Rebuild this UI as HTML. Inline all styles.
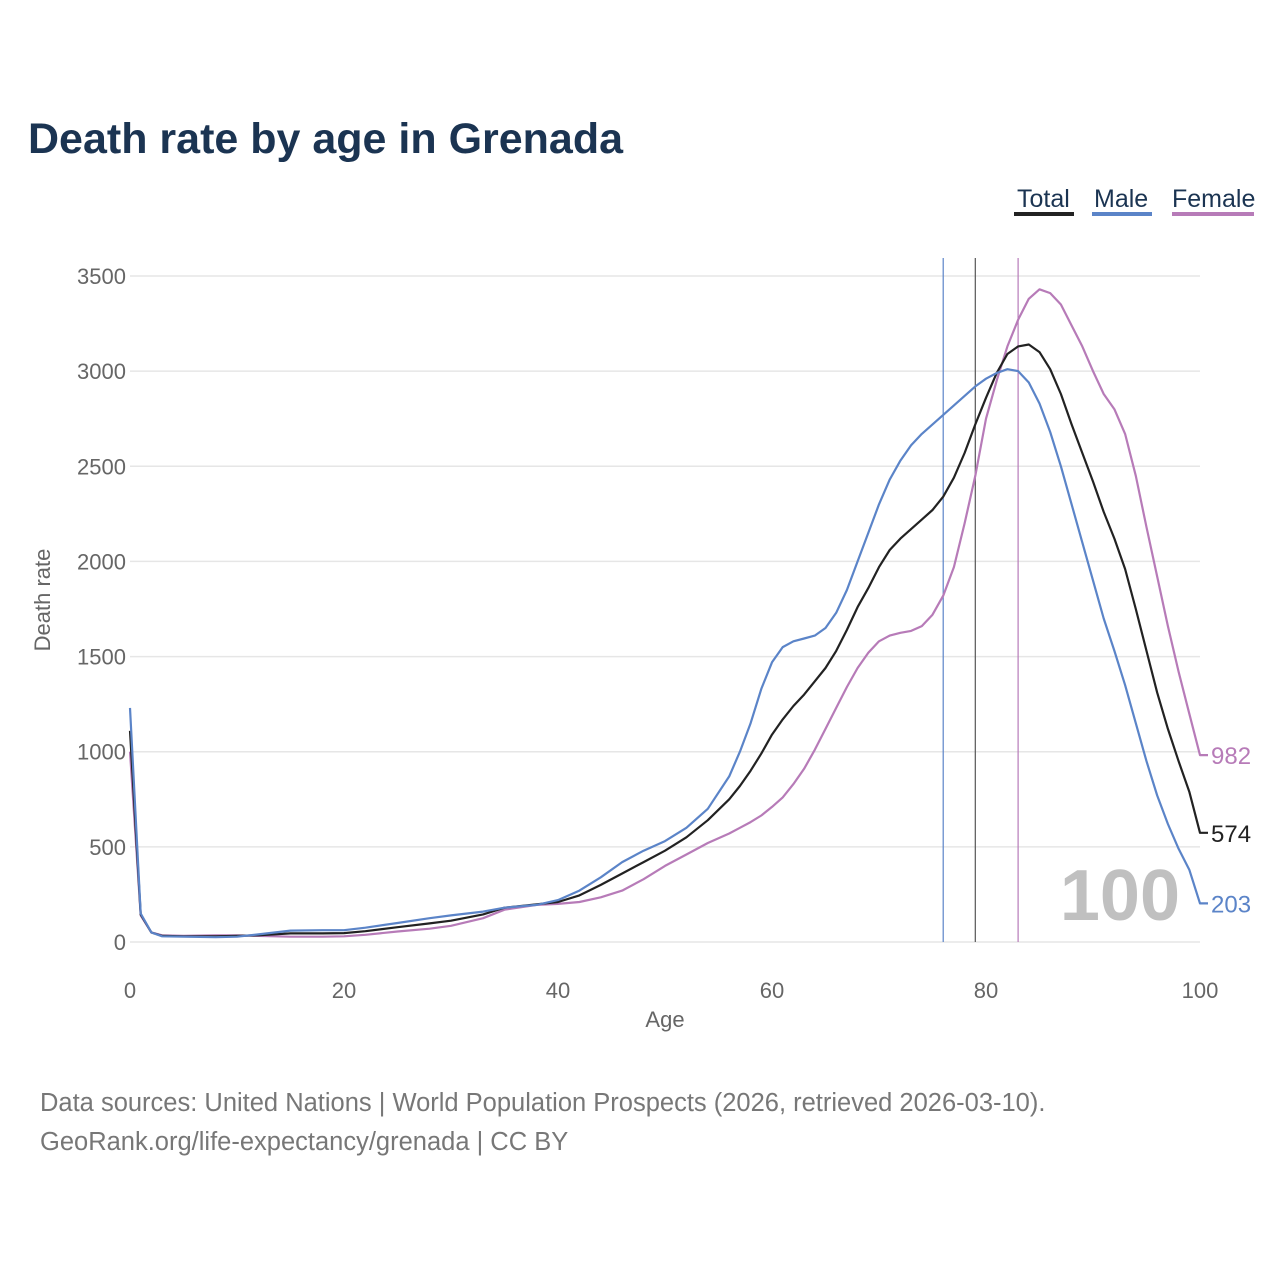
<!DOCTYPE html>
<html><head><meta charset="utf-8"><style>
body{margin:0;background:#fff;font-family:"Liberation Sans",sans-serif}
</style></head><body>
<svg id="chart" width="1280" height="1280" xmlns="http://www.w3.org/2000/svg">
<rect width="1280" height="1280" fill="#fff"/>
<text x="28" y="153" font-size="43" font-weight="bold" fill="#1b3452">Death rate by age in Grenada</text>
<g font-size="25">
<text x="1017" y="207" fill="#1b3452">Total</text>
<rect x="1014" y="212" width="60" height="4" fill="#222"/>
<text x="1094" y="207" fill="#1b3452">Male</text>
<rect x="1092" y="212" width="60" height="4" fill="#5b84c8"/>
<text x="1172" y="207" fill="#1b3452">Female</text>
<rect x="1172" y="212" width="82" height="4" fill="#b77bb8"/>
</g>
<g id="grid"></g><g id="yticks" font-size="22" fill="#666" text-anchor="end"></g>
<g id="xticks" font-size="22" fill="#666" text-anchor="middle"></g>
<text x="665" y="1027" font-size="22" fill="#666" text-anchor="middle">Age</text>
<text x="50" y="600" font-size="22" fill="#666" text-anchor="middle" transform="rotate(-90 50 600)">Death rate</text>
<text x="1180" y="920" font-size="72" font-weight="bold" fill="#c0c0c0" text-anchor="end">100</text>
<g id="vlines"></g><g id="lines"></g><g id="labels" font-size="24"></g>
<text x="40" y="1111" font-size="25.5" fill="#777">Data sources: United Nations | World Population Prospects (2026, retrieved 2026-03-10).</text>
<text x="40" y="1150" font-size="25.5" fill="#777">GeoRank.org/life-expectancy/grenada | CC BY</text>
</svg>
<script>
const ages=[0,1,2,3,5,8,10,12,15,18,20,22,25,28,30,33,35,38,40,42,44,46,48,50,52,54,56,57,58,59,60,61,62,63,64,65,66,67,68,69,70,71,72,73,74,75,76,77,78,79,80,81,82,83,84,85,86,87,88,89,90,91,92,93,94,95,96,97,98,99,100];
const male=[1230,150,50,30,28,25,28,40,60,62,62,75,100,125,140,160,180,195,220,270,340,420,480,530,600,700,870,1000,1150,1330,1470,1550,1580,1595,1610,1650,1730,1850,2000,2150,2300,2430,2530,2610,2670,2720,2770,2820,2870,2920,2960,2990,3010,3000,2940,2830,2680,2500,2300,2100,1900,1700,1530,1350,1150,950,770,620,490,380,203];
const female=[1000,140,50,35,32,35,35,32,28,28,30,38,55,70,85,125,170,195,200,210,235,270,330,400,460,520,570,600,630,665,710,760,830,910,1010,1120,1230,1340,1440,1520,1580,1610,1625,1635,1660,1720,1820,1970,2200,2450,2750,2950,3130,3270,3380,3430,3410,3350,3240,3130,3000,2880,2800,2670,2450,2180,1920,1660,1420,1200,982];
const total=[1110,145,50,32,30,30,32,35,45,45,47,57,78,98,112,145,180,198,210,245,300,360,420,480,550,640,750,820,900,990,1090,1170,1240,1300,1370,1440,1530,1640,1760,1860,1970,2060,2120,2170,2220,2270,2340,2440,2570,2720,2860,2990,3090,3130,3140,3100,3010,2880,2720,2570,2420,2260,2120,1960,1750,1530,1310,1120,950,790,574];
const yTicks=[0,500,1000,1500,2000,2500,3000,3500];
const xTicks=[0,20,40,60,80,100];
const lifeExp=[76,79,83];
const NS="http://www.w3.org/2000/svg";
const X=a=>130+a*10.7, Y=v=>942-v*0.19029;
function mk(t,p,at){const e=document.createElementNS(NS,t);for(const k in at)e.setAttribute(k,at[k]);p.appendChild(e);return e;}
const grid=document.getElementById('grid'),yt=document.getElementById('yticks'),xt=document.getElementById('xticks');
yTicks.forEach(v=>{const l=mk('line',grid,{x1:130,x2:1200,y1:Y(v),y2:Y(v),stroke:'#e6e6e6','stroke-width':1.5});


const t=mk('text',yt,{x:126,y:Y(v)+8});t.textContent=v;

});
xTicks.forEach(a=>{const t=mk('text',xt,{x:X(a),y:998});t.textContent=a;

});
const vc=['#5b84c8','#555','#b77bb8'],vg=document.getElementById('vlines');
lifeExp.forEach((a,i)=>{const l=mk('line',vg,{x1:X(a),x2:X(a),y1:258,y2:942,stroke:vc[i],'stroke-width':1.2});

});
const series=[[female,'#b77bb8','female'],[total,'#222','total'],[male,'#5b84c8','male']];
const lg=document.getElementById('lines'),lb=document.getElementById('labels');
series.forEach(([d,c,n])=>{const p=mk('path',lg,{d:d.map((v,i)=>(i?'L':'M')+X(ages[i]).toFixed(1)+','+Y(v).toFixed(1)).join('')+'h8',fill:'none',stroke:c,'stroke-width':2.2,'stroke-linejoin':'round'});


const t=mk('text',lb,{x:1211,y:Y(d[d.length-1])+9,fill:c});t.textContent=d[d.length-1];

});
</script>
</body></html>
